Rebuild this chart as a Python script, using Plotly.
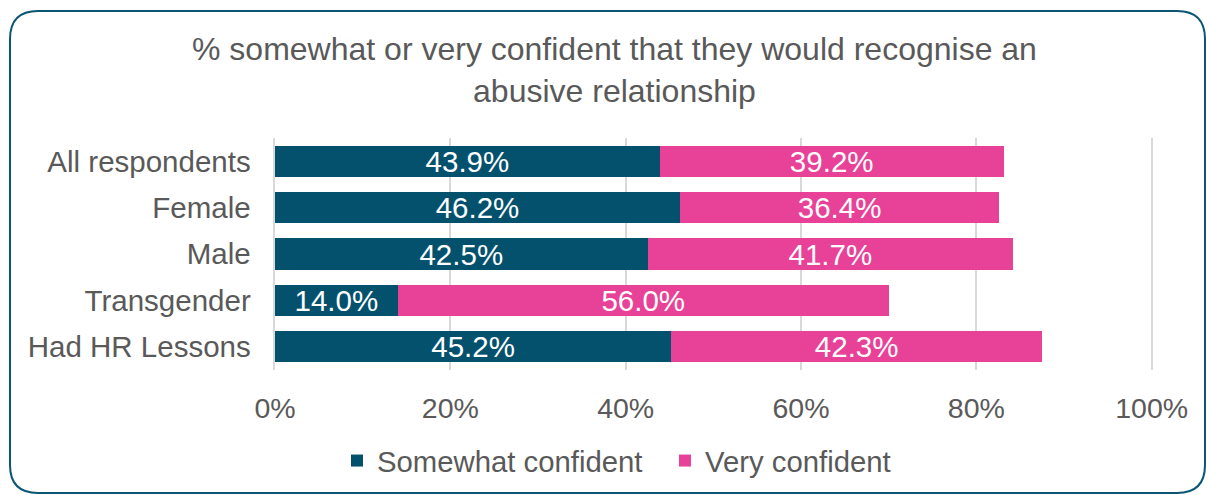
import plotly.graph_objects as go

categories = ["All respondents", "Female", "Male", "Transgender", "Had HR Lessons"]
somewhat = [43.9, 46.2, 42.5, 14.0, 45.2]
very = [39.2, 36.4, 41.7, 56.0, 42.3]
series_names = ["Somewhat confident", "Very confident"]
x_ticks = [0, 20, 40, 60, 80, 100]
x_tick_labels = ["0%", "20%", "40%", "60%", "80%", "100%"]
title_text = "% somewhat or very confident that they would recognise an<br>abusive relationship"

TEAL = "#03516D"
PINK = "#E84198"
GREY = "#595959"
FONT = "Liberation Sans, Arial, sans-serif"

W, H = 1207, 495
L, R, T, B = 275, 54, 138, 125
pw, ph = W - L - R, H - T - B

def px(x):
    return (x - L) / pw

def py(y):
    return (H - B - y) / ph

fig = go.Figure()
for name, vals, col in [(series_names[0], somewhat, TEAL), (series_names[1], very, PINK)]:
    fig.add_trace(go.Bar(
        y=categories, x=vals, name=name, orientation="h",
        marker=dict(color=col, line=dict(width=0)),
        text=[f"{v:.1f}%" for v in vals], textposition="inside",
        insidetextanchor="middle", constraintext="none",
        textfont=dict(color="white", size=29.5, family=FONT),
        width=0.67,
    ))

# rounded border
x0, x1, y0, y1, r = 10, 1205, 11, 493, 28
path = (f"M {px(x0+r)},{py(y0)} L {px(x1-r)},{py(y0)} Q {px(x1)},{py(y0)} {px(x1)},{py(y0+r)} "
        f"L {px(x1)},{py(y1-r)} Q {px(x1)},{py(y1)} {px(x1-r)},{py(y1)} "
        f"L {px(x0+r)},{py(y1)} Q {px(x0)},{py(y1)} {px(x0)},{py(y1-r)} "
        f"L {px(x0)},{py(y0+r)} Q {px(x0)},{py(y0)} {px(x0+r)},{py(y0)} Z")

fig.update_layout(
    width=W, height=H,
    margin=dict(l=L, r=R, t=T, b=B, autoexpand=False),
    barmode="stack",
    bargap=0.33,
    plot_bgcolor="white", paper_bgcolor="white",
    font=dict(family=FONT, color=GREY),
    uniformtext=dict(mode=False),
    xaxis=dict(range=[0, 100.15], tickvals=x_ticks, ticktext=x_tick_labels,
               showgrid=True, gridcolor="#D9D9D9", gridwidth=2, zeroline=False,
               tickfont=dict(size=28.5, color=GREY), ticks="", showline=False,
               ticklabelstandoff=18),
    yaxis=dict(autorange="reversed", tickfont=dict(size=29.5, color=GREY),
               ticks="", showline=True, linecolor="#D9D9D9", linewidth=2,
               ticksuffix="  "),
    legend=dict(orientation="h", x=px(337), xanchor="left", y=py(461), yanchor="middle",
                font=dict(size=29.3, color=GREY), itemwidth=30, traceorder="normal",
                entrywidth=283, entrywidthmode="pixels",
                bgcolor="rgba(0,0,0,0)"),
    shapes=[dict(type="path", path=path, xref="paper", yref="paper",
                 line=dict(color="#0B5575", width=2), fillcolor="rgba(0,0,0,0)")],
    annotations=[dict(text=title_text, xref="paper", yref="paper", x=px(614), y=py(70),
                      xanchor="center", yanchor="middle", showarrow=False,
                      font=dict(size=32, color=GREY, family=FONT))],
)

fig.write_html("out.html")
